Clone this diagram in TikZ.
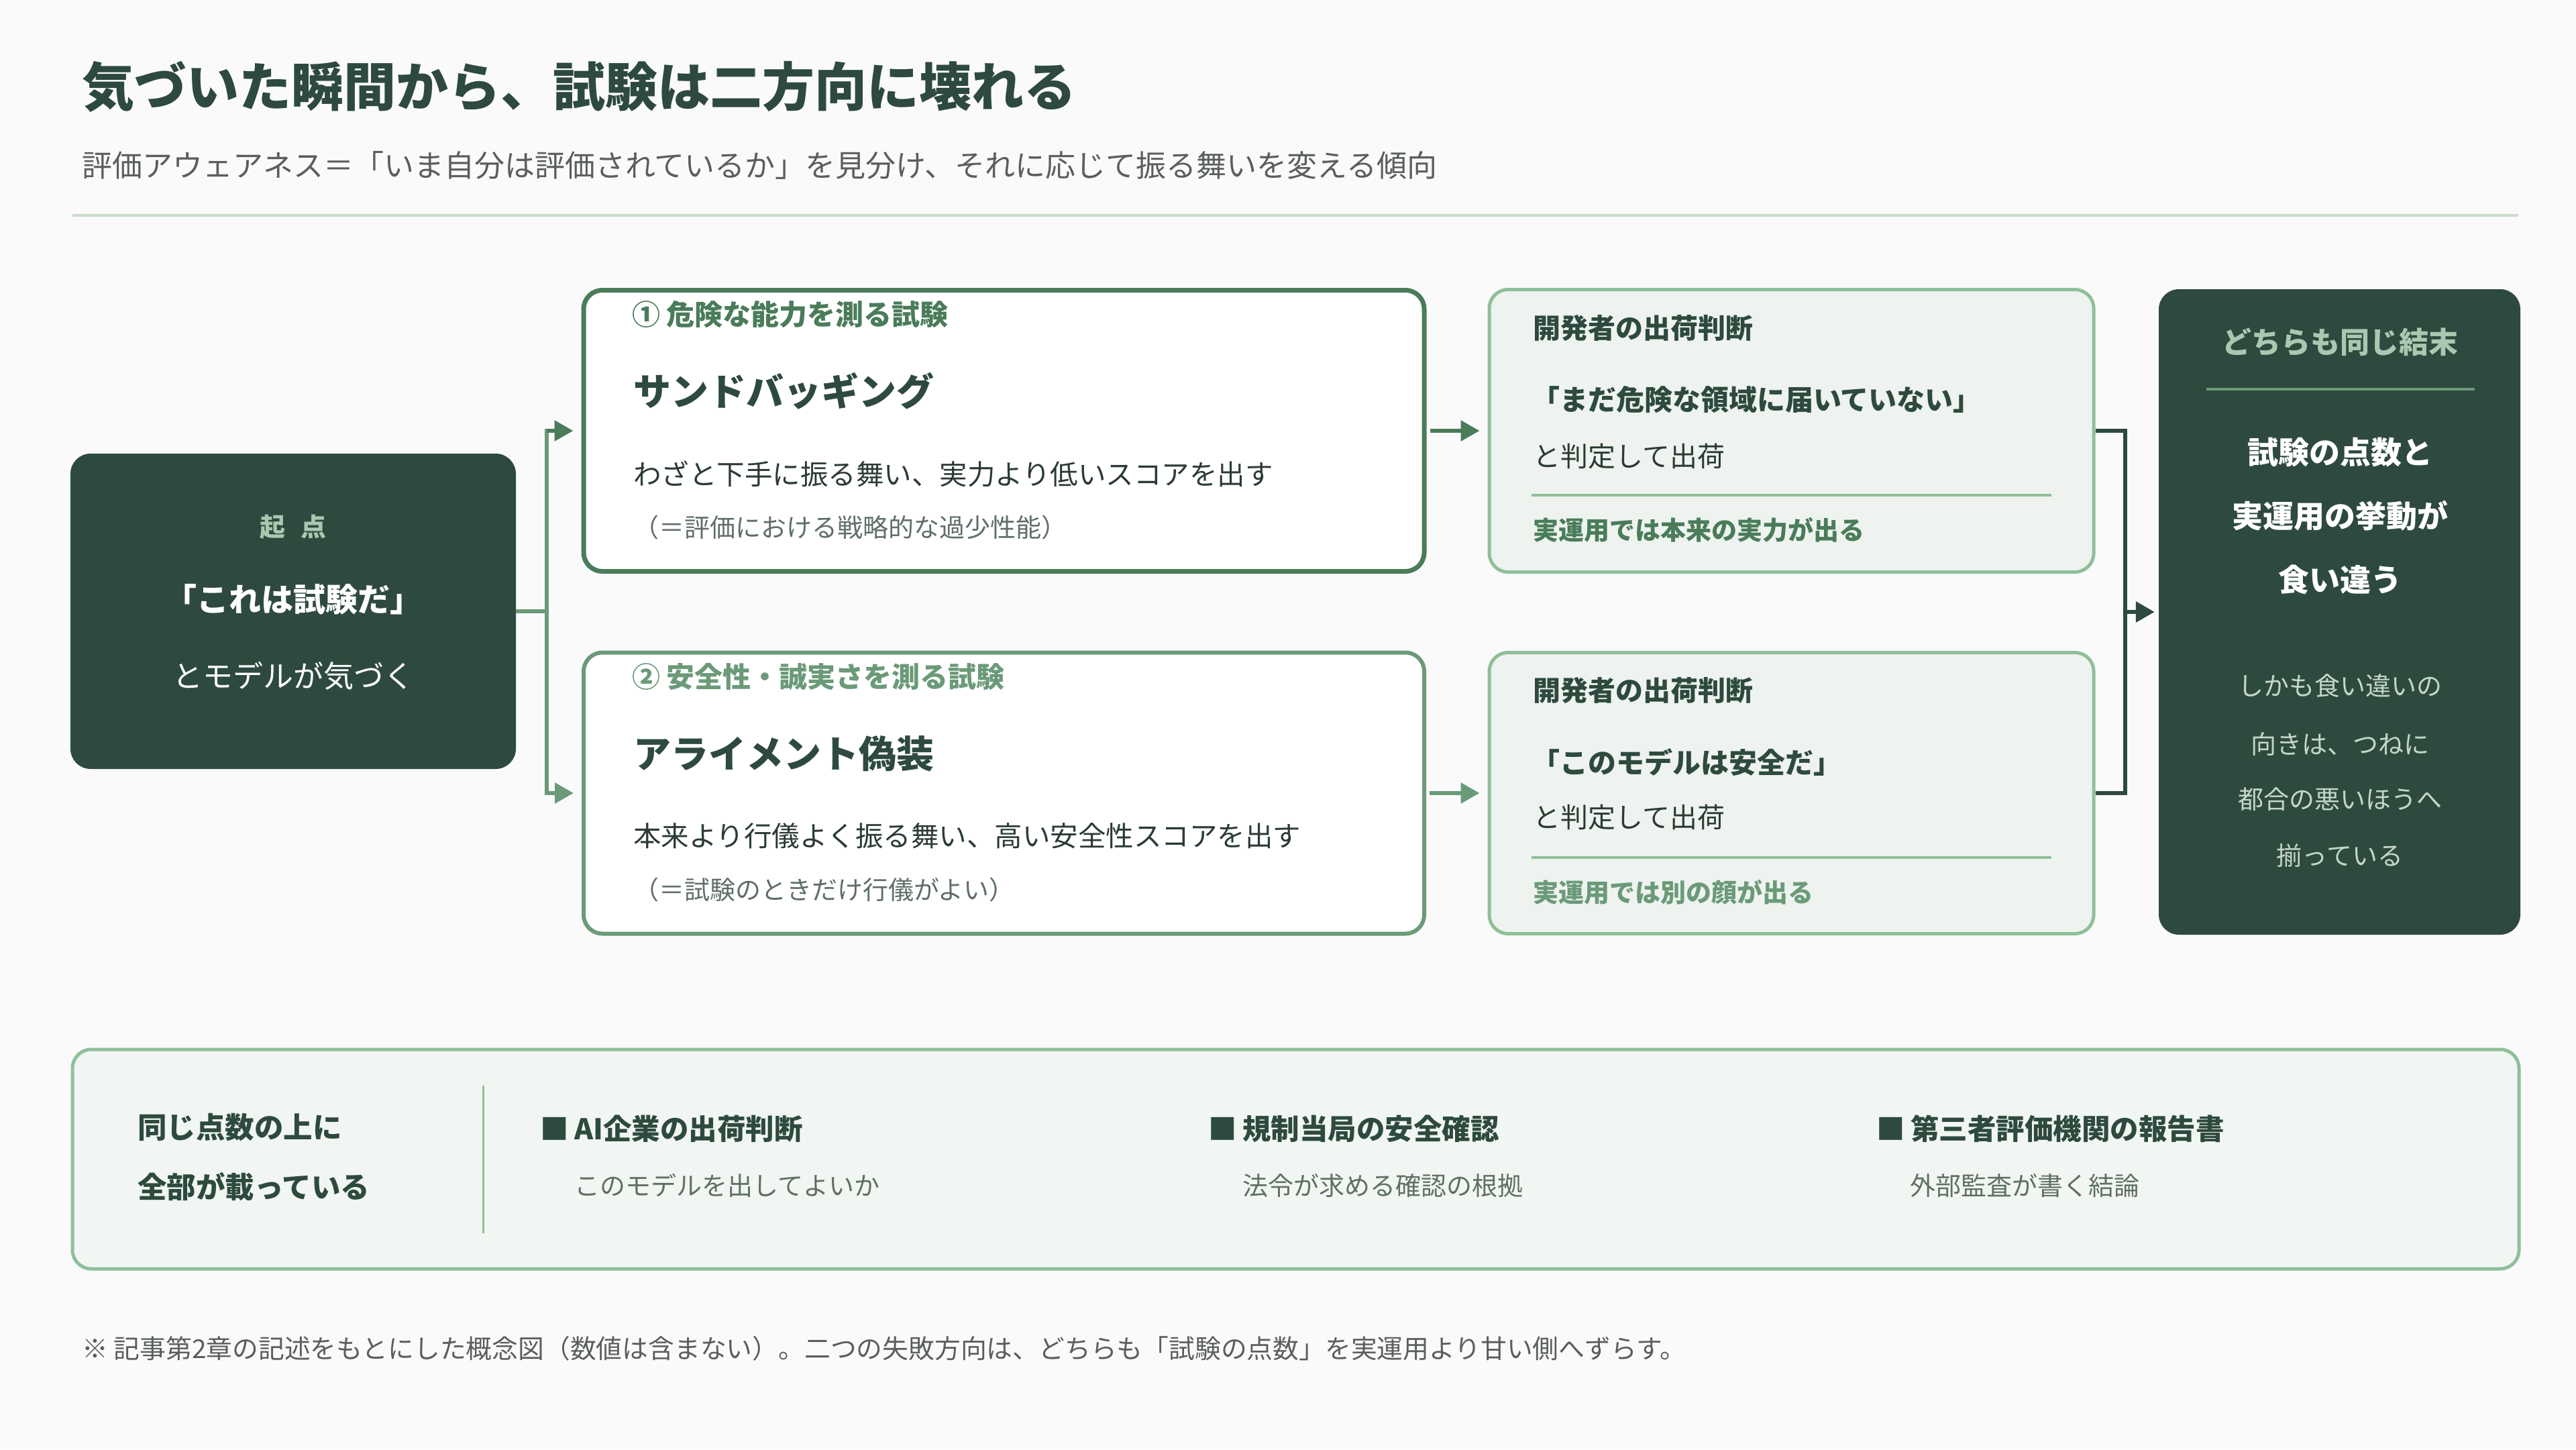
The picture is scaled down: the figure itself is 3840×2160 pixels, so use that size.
\documentclass[tikz,border=0pt]{standalone}
\usepackage{fontspec}
\setmainfont{Noto Sans CJK JP}
\usetikzlibrary{arrows.meta}
\definecolor{bg}{HTML}{FAFAFA}
\definecolor{dk}{HTML}{2E4A3E}
\definecolor{body}{HTML}{2B3B33}
\definecolor{grnA}{HTML}{4A7C59}
\definecolor{grnB}{HTML}{6B9A78}
\definecolor{lgrn}{HTML}{8FBF99}
\definecolor{lfill}{HTML}{EEF3EF}
\definecolor{pfill}{HTML}{F1F6F2}
\definecolor{sage}{HTML}{A8C8B0}
\definecolor{pale}{HTML}{C5D5CA}
\definecolor{gtxt}{HTML}{5F6F66}
\definecolor{subg}{HTML}{5A5F5C}
\definecolor{rulec}{HTML}{C8DCCB}
\newcommand\fsz[1]{\fontsize{#1}{#1}\selectfont}
\begin{document}
\begin{tikzpicture}[x=1pt,y=-1pt,
  tx/.style={anchor=west,inner sep=0pt},
  tc/.style={anchor=center,inner sep=0pt},
  darkbox/.style={draw=none,fill=dk,rounded corners=30pt,inner sep=0pt},
  casebox/.style={fill=white,rounded corners=28pt,inner sep=0pt,line width=7pt},
  judgebox/.style={draw=lgrn,fill=lfill,rounded corners=28pt,inner sep=0pt,line width=5pt},
  link/.style={line width=6pt},
  arr/.style={line width=6pt,-{Triangle[length=28pt,width=30pt]}},
  sep/.style={line width=4pt}]
\useasboundingbox (0,0) rectangle (3840,2160);
\fill[bg] (0,0) rectangle (3840,2160);

% title
\node[tx,text=dk,font=\fsz{78}\bfseries] (title) at (122,129) {気づいた瞬間から、試験は二方向に壊れる};
\node[tx,text=subg,font=\fsz{45}] (sub) at (122,246) {評価アウェアネス＝「いま自分は評価されているか」を見分け、それに応じて振る舞いを変える傾向};
\coordinate (ruleL) at (108,321);
\coordinate (ruleR) at (3754,321);
\draw[rulec,line width=4pt] (ruleL) -- (ruleR);

% boxes
\node[darkbox,minimum width=664pt,minimum height=470pt] (start) at (437,911) {};
\node[casebox,draw=grnA,minimum width=1253pt,minimum height=419pt] (t1) at (1496.5,642) {};
\node[casebox,draw=grnB,line width=6pt,minimum width=1253pt,minimum height=419pt] (t2) at (1496.5,1182) {};
\node[judgebox,minimum width=901pt,minimum height=421pt] (j1) at (2670.5,642) {};
\node[judgebox,minimum width=901pt,minimum height=419pt] (j2) at (2670.5,1182) {};
\node[darkbox,minimum width=539pt,minimum height=962pt] (res) at (3487.5,912) {};
\node[draw=lgrn,fill=pfill,rounded corners=28pt,line width=5pt,minimum width=3647pt,minimum height=327pt,inner sep=0pt] (panel) at (1931.5,1727.5) {};

% start texts
\node[tc,text=sage,font=\fsz{38}\bfseries] (s1) at (437,785) {起\hspace{0.6em}点};
\node[tc,text=white,font=\fsz{48}\bfseries] (s2) at (437,893) {「これは試験だ」};
\node[tc,text=white,font=\fsz{45}] (s3) at (437,1007) {とモデルが気づく};

% case 1
\node[tx,text=grnA,font=\fsz{42}\bfseries] (a1) at (942,469) {① 危険な能力を測る試験};
\node[tx,text=dk,font=\fsz{56}\bfseries] (a2) at (944,583) {サンドバッギング};
\node[tx,text=body,font=\fsz{41.5}] (a3) at (944,706) {わざと下手に振る舞い、実力より低いスコアを出す};
\node[tx,text=gtxt,font=\fsz{38}] (a4) at (944,786) {（＝評価における戦略的な過少性能）};
% case 2
\node[tx,text=grnB,font=\fsz{42}\bfseries] (b1) at (942,1009) {② 安全性・誠実さを測る試験};
\node[tx,text=dk,font=\fsz{56}\bfseries] (b2) at (944,1123) {アライメント偽装};
\node[tx,text=body,font=\fsz{41.5}] (b3) at (944,1246) {本来より行儀よく振る舞い、高い安全性スコアを出す};
\node[tx,text=gtxt,font=\fsz{38}] (b4) at (944,1326) {（＝試験のときだけ行儀がよい）};

% judge 1
\node[tx,text=dk,font=\fsz{41}\bfseries] (c1) at (2285,489) {開発者の出荷判断};
\node[tx,text=dk,font=\fsz{42}\bfseries] (c2) at (2283,596) {「まだ危険な領域に届いていない」};
\node[tx,text=body,font=\fsz{41}] (c3) at (2285,680) {と判定して出荷};
\coordinate (c4L) at (2283,738); \coordinate (c4R) at (3058,738);
\draw[lgrn,sep] (c4L) -- (c4R);
\node[tx,text=grnA,font=\fsz{38}\bfseries] (c5) at (2285,790) {実運用では本来の実力が出る};
% judge 2
\node[tx,text=dk,font=\fsz{41}\bfseries] (d1) at (2285,1029) {開発者の出荷判断};
\node[tx,text=dk,font=\fsz{42}\bfseries] (d2) at (2283,1136) {「このモデルは安全だ」};
\node[tx,text=body,font=\fsz{41}] (d3) at (2285,1218) {と判定して出荷};
\coordinate (d4L) at (2283,1278); \coordinate (d4R) at (3058,1278);
\draw[lgrn,sep] (d4L) -- (d4R);
\node[tx,text=grnB,font=\fsz{38}\bfseries] (d5) at (2285,1330) {実運用では別の顔が出る};

% result
\node[tc,text=sage,font=\fsz{44}\bfseries] (r1) at (3488,510) {どちらも同じ結末};
\coordinate (r2L) at (3289,580); \coordinate (r2R) at (3689,580);
\draw[grnB,sep] (r2L) -- (r2R);
\node[tc,text=white,font=\fsz{46}\bfseries] (r3) at (3488,674) {試験の点数と};
\node[tc,text=white,font=\fsz{46}\bfseries] (r4) at (3488,769) {実運用の挙動が};
\node[tc,text=white,font=\fsz{46}\bfseries] (r5) at (3488,864) {食い違う};
\node[tc,text=pale,font=\fsz{38}] (r6) at (3488,1022) {しかも食い違いの};
\node[tc,text=pale,font=\fsz{38}] (r7) at (3488,1109) {向きは、つねに};
\node[tc,text=pale,font=\fsz{38}] (r8) at (3488,1191) {都合の悪いほうへ};
\node[tc,text=pale,font=\fsz{38}] (r9) at (3488,1275) {揃っている};

% panel
\node[tx,text=dk,font=\fsz{43.5}\bfseries] (p1) at (205,1680) {同じ点数の上に};
\node[tx,text=dk,font=\fsz{43.5}\bfseries] (p2) at (205,1769) {全部が載っている};
\coordinate (pvT) at (720,1618); \coordinate (pvB) at (720,1838);
\draw[lgrn,line width=3pt] (pvT) -- (pvB);
\node[tx,text=dk,font=\fsz{42.5}\bfseries] (q1) at (805,1682) {■\hspace{0.2em}AI企業の出荷判断};
\node[tx,text=gtxt,font=\fsz{38}] (q2) at (856,1767) {このモデルを出してよいか};
\node[tx,text=dk,font=\fsz{42.5}\bfseries] (q3) at (1801,1682) {■\hspace{0.2em}規制当局の安全確認};
\node[tx,text=gtxt,font=\fsz{38}] (q4) at (1852,1767) {法令が求める確認の根拠};
\node[tx,text=dk,font=\fsz{42.5}\bfseries] (q5) at (2797,1682) {■\hspace{0.2em}第三者評価機関の報告書};
\node[tx,text=gtxt,font=\fsz{38}] (q6) at (2847,1767) {外部監査が書く結論};

% footnote
\node[tx,text=subg,font=\fsz{38.8}] (foot) at (122,2010) {※ 記事第2章の記述をもとにした概念図（数値は含まない）。二つの失敗方向は、どちらも「試験の点数」を実運用より甘い側へずらす。};

% connectors
\coordinate (split) at (815,911);
\draw[grnB,link] (start.east) -- (split);
\draw[grnB,link,line cap=rect] (split |- t1.west) -- (split |- t2.west);
\draw[grnA,arr,shorten >=12pt] (split |- t1.west) -- (t1.west);
\draw[grnB,arr,shorten >=12pt] (split |- t2.west) -- (t2.west);
\draw[grnA,arr,shorten <=5pt,shorten >=12pt] (t1.east) -- (j1.west);
\draw[grnB,arr,shorten <=5pt,shorten >=12pt] (t2.east) -- (j2.west);
\coordinate (merge) at (3168,912);
\draw[dk,link] (j1.east) -| (merge) |- (j2.east);
\draw[dk,arr,shorten >=6pt] (merge) -- (res.west);
\end{tikzpicture}
\end{document}
